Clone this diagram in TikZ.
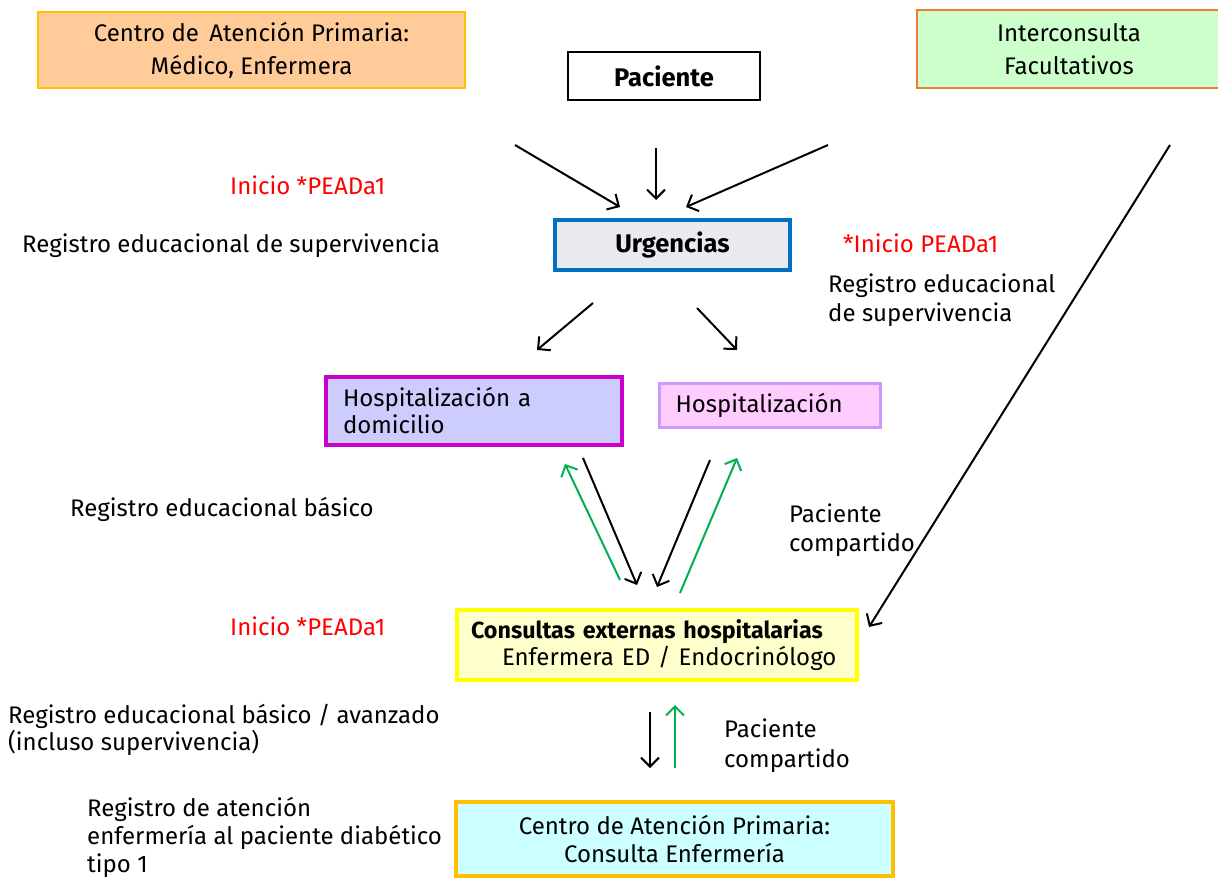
\documentclass[tikz,border=0pt]{standalone}
\usepackage{fontspec}
\setmainfont{Fira Sans}
\usetikzlibrary{arrows.meta}

\definecolor{apfill}{HTML}{FFCC99}
\definecolor{apline}{HTML}{FFC000}
\definecolor{icfill}{HTML}{CCFFCC}
\definecolor{icline}{HTML}{ED7D31}
\definecolor{urfill}{HTML}{E8EAF0}
\definecolor{urline}{HTML}{0070C0}
\definecolor{hdfill}{HTML}{CCCCFF}
\definecolor{hdline}{HTML}{CC00CC}
\definecolor{hofill}{HTML}{FFCCFF}
\definecolor{holine}{HTML}{CC99FF}
\definecolor{cefill}{HTML}{FFFFCC}
\definecolor{celine}{HTML}{FFFF00}
\definecolor{cafill}{HTML}{CCFFFF}
\definecolor{ptred}{HTML}{FF0000}
\definecolor{backgreen}{HTML}{00B050}

\begin{document}
\begin{tikzpicture}[x=1pt,y=-1pt,>={Straight Barb[length=9pt,width=18pt]}]

\tikzset{%
every box/.style={
draw,
line width=2.6pt,
inner sep=0pt,
align=center,
font=\fontsize{24}{33}\selectfont
},
note/.style={
anchor=west,
align=left,
inner sep=0pt,
font=\fontsize{24}{29.5}\selectfont
},
go/.style={->,line width=2pt},
back/.style={->,line width=2pt,backgreen},
}

\useasboundingbox (0,0) rectangle (1218,881);

% Boxes
\node [every box, fill=apfill, draw=apline, minimum width=427, minimum height=76] (ap) at (251.5,50) {Centro de\ \,Atención Primaria:\\Médico, Enfermera};
\node [every box, fill=white, draw=black, line width=1.6pt, minimum width=192, minimum height=48, font=\fontsize{25.5}{27}\bfseries] (pac) at (664,76) {Paciente};
\node [every box, fill=icfill, draw=icline, line width=2.2pt, minimum width=304, minimum height=78] (ic) at (1069,49) {Interconsulta\\Facultativos};
\node [every box, fill=urfill, draw=urline, line width=3.4pt, minimum width=235, minimum height=50, font=\fontsize{25.5}{27}\bfseries] (urg) at (672.5,245) {Urgencias};
\node [every box, fill=hdfill, draw=hdline, line width=3.4pt, minimum width=296, minimum height=68, align=left, text width=262, font=\fontsize{24}{27}\selectfont] (hd) at (474,411) {Hospitalización a\\domicilio};
\node [every box, fill=hofill, draw=holine, line width=3pt, minimum width=221, minimum height=44, align=left, text width=188] (hos) at (769.5,405) {Hospitalización};
\node [every box, fill=cefill, draw=celine, line width=3.4pt, minimum width=400, minimum height=70, align=left, text width=372, font=\fontsize{24}{27}\selectfont] (ce) at (657,645) {{\fontsize{23.3}{27}\bfseries Consultas externas hospitalarias}\\\hspace*{31pt}Enfermera ED / Endocrinólogo};
\node [every box, fill=cafill, draw=apline, line width=3.4pt, minimum width=437, minimum height=74, font=\fontsize{24}{28}\selectfont] (cap) at (674.5,839) {Centro de Atención Primaria:\\Consulta Enfermería};

% Notes
\node [note, text=ptred] (ini1) at (230,185) {Inicio *PEADa1};
\node [note] (reg1) at (22,246) {Registro educacional de supervivencia};
\node [note, text=ptred] (ini2) at (843,243) {*Inicio PEADa1};
\node [note] (reg2) at (828,300) {Registro educacional\\de supervivencia};
\node [note] (reg3) at (70,509) {Registro educacional básico};
\node [note] (comp1) at (789,530) {Paciente\\compartido};
\node [note, text=ptred] (ini3) at (230,626) {Inicio *PEADa1};
\node [note, font=\fontsize{24}{27}\selectfont] (reg4) at (8,729.5) {Registro educacional básico / avanzado\\(incluso supervivencia)};
\node [note] (comp2) at (724,745.5) {Paciente\\compartido};
\node [note, anchor=north west, font=\fontsize{24}{28}\selectfont] (reg5) at (87,797) {Registro de atención\\enfermería al paciente diabético\\tipo 1};

% Arrow ends
\coordinate (a1s) at (515,145);  \coordinate (a1e) at (620,207);
\coordinate (a2s) at (656,148);  \coordinate (a2e) at (656,200);
\coordinate (a3s) at (828,145);  \coordinate (a3e) at (686,207);
\coordinate (b1s) at (593,303);  \coordinate (b1e) at (537,350);
\coordinate (b2s) at (697,308);  \coordinate (b2e) at (737,350);
\coordinate (c1s) at (1170,145); \coordinate (c1e) at (869,627);
\coordinate (d1s) at (583,458);  \coordinate (d1e) at (637,585);
\coordinate (d2s) at (710,460);  \coordinate (d2e) at (657,587);
\coordinate (e1s) at (620,580);  \coordinate (e1e) at (565,464);
\coordinate (e2s) at (680,593);  \coordinate (e2e) at (737,458);
\coordinate (f1s) at (650,712);  \coordinate (f1e) at (650,768);
\coordinate (g1s) at (675,768);  \coordinate (g1e) at (675,705);

% Flow towards Urgencias and on
\foreach \a in {a1,a2,a3,b1,b2,c1,d1,d2,f1}
\draw [go] (\a s) -- (\a e);

% Return flow
\foreach \a in {e1,e2,g1}
\draw [back] (\a s) -- (\a e);

\end{tikzpicture}
\end{document}
